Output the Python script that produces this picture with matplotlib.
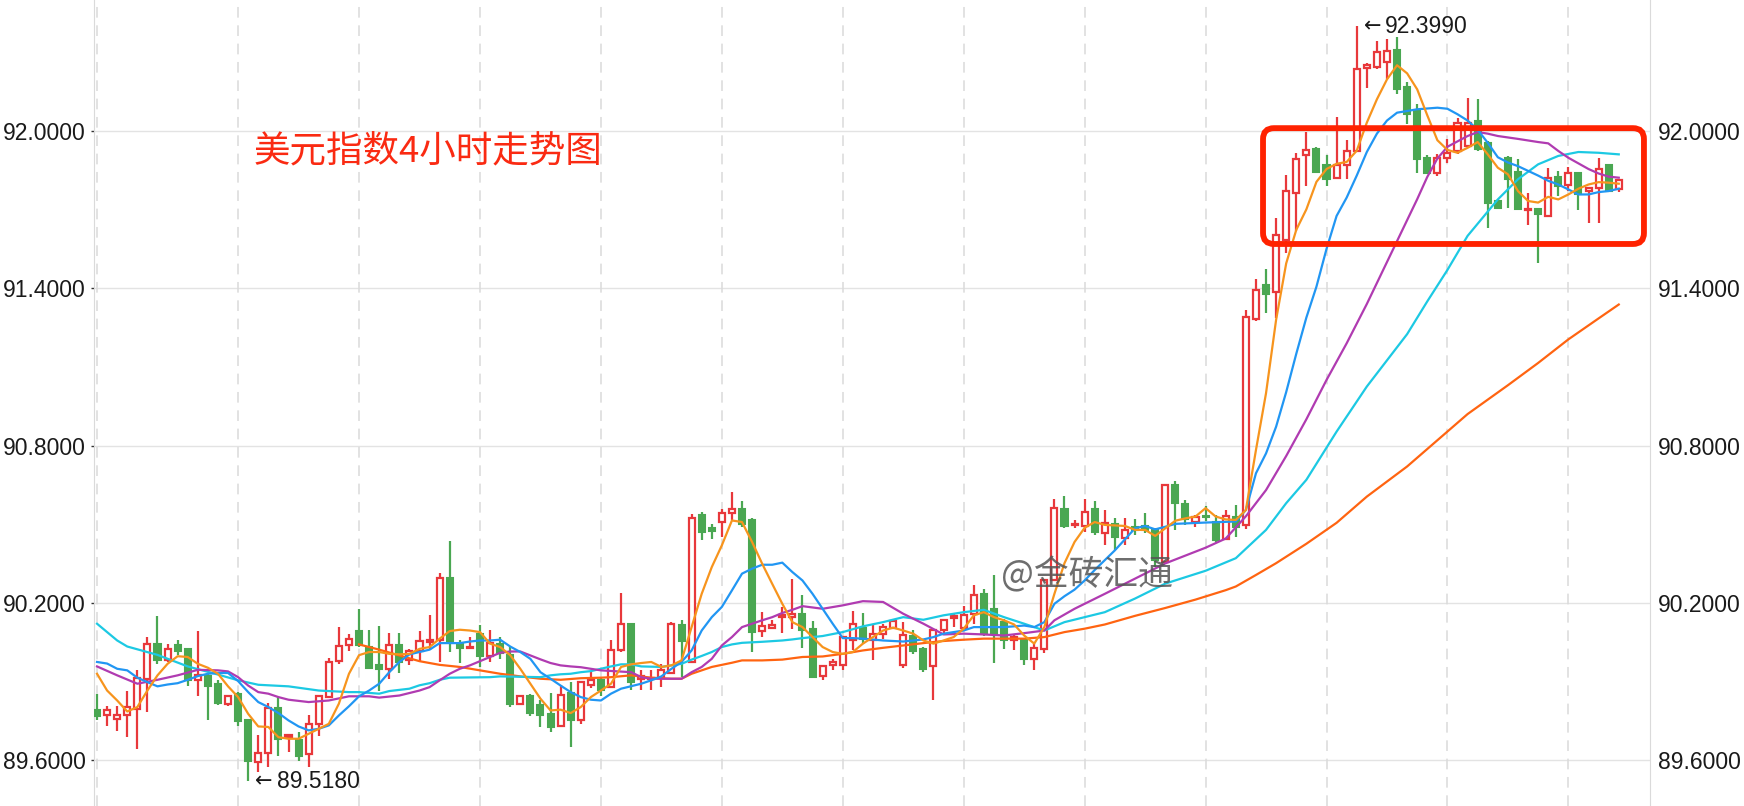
import matplotlib
matplotlib.use('Agg')
import matplotlib.pyplot as plt
from matplotlib.patches import Rectangle, FancyBboxPatch
from matplotlib.transforms import IdentityTransform

# 4小时K线 (152根)
opens = [89.792, 89.770, 89.755, 89.770, 89.795, 89.910, 90.043, 89.980, 90.037, 90.023,
         89.906, 89.919, 89.891, 89.815, 89.853, 89.753, 89.592, 89.626, 89.798, 89.687,
         89.675, 89.621, 89.736, 89.840, 89.977, 90.037, 90.092, 90.031, 89.961, 89.948,
         90.037, 89.980, 90.016, 90.050, 90.056, 90.295, 90.044, 90.027, 90.082, 89.995,
         90.044, 90.002, 89.815, 89.846, 89.808, 89.774, 89.728, 89.855, 89.754, 89.888,
         89.906, 89.878, 90.018, 90.120, 89.910, 89.909, 89.914, 89.933, 90.114, 89.974,
         90.533, 90.485, 90.508, 90.543, 90.559, 90.514, 90.094, 90.103, 90.145, 90.145,
         90.158, 90.101, 89.920, 89.961, 89.961, 90.059, 90.105, 90.056, 90.082, 90.105,
         89.961, 90.075, 90.024, 89.957, 90.097, 90.143, 90.103, 90.158, 90.232, 90.177,
         90.126, 90.059, 90.056, 89.986, 90.022, 90.285, 90.559, 90.495, 90.491, 90.559,
         90.465, 90.501, 90.446, 90.490, 90.493, 90.478, 90.357, 90.648, 90.576, 90.510,
         90.531, 90.510, 90.442, 90.529, 90.495, 91.282, 91.414, 91.385, 91.585, 91.765,
         91.907, 91.933, 91.869, 91.820, 91.871, 91.924, 92.242, 92.245, 92.263, 92.308,
         92.169, 92.076, 91.898, 91.838, 91.898, 91.924, 91.943, 92.038, 91.955, 91.733,
         91.898, 91.844, 91.697, 91.701, 91.676, 91.826, 91.793, 91.838, 91.771, 91.784,
         91.869, 91.777]
highs = [89.853, 89.807, 89.807, 89.865, 89.942, 90.071, 90.148, 90.041, 90.056, 90.028,
         90.094, 89.929, 89.904, 89.849, 89.858, 89.753, 89.697, 89.817, 89.840, 89.700,
         89.706, 89.773, 89.846, 89.991, 90.107, 90.082, 90.175, 90.097, 90.110, 90.086,
         90.086, 90.024, 90.094, 90.152, 90.315, 90.434, 90.059, 90.069, 90.116, 90.097,
         90.071, 90.031, 89.849, 89.850, 89.827, 89.855, 89.887, 89.897, 89.901, 89.935,
         89.916, 90.056, 90.237, 90.122, 89.944, 89.942, 89.967, 90.126, 90.133, 90.540,
         90.546, 90.501, 90.559, 90.621, 90.587, 90.523, 90.164, 90.133, 90.183, 90.292,
         90.228, 90.129, 89.961, 89.986, 90.075, 90.168, 90.162, 90.114, 90.120, 90.133,
         90.126, 90.097, 90.031, 90.101, 90.139, 90.158, 90.186, 90.269, 90.253, 90.304,
         90.139, 90.082, 90.063, 90.044, 90.288, 90.597, 90.606, 90.514, 90.597, 90.587,
         90.554, 90.522, 90.522, 90.519, 90.541, 90.484, 90.652, 90.666, 90.592, 90.535,
         90.569, 90.535, 90.552, 90.573, 91.316, 91.434, 91.475, 91.669, 91.832, 91.916,
         91.995, 91.939, 91.910, 92.052, 91.965, 92.399, 92.258, 92.343, 92.350, 92.360,
         92.187, 92.102, 91.907, 91.911, 91.968, 92.051, 92.127, 92.123, 91.962, 91.739,
         91.905, 91.892, 91.765, 91.707, 91.860, 91.847, 91.864, 91.841, 91.788, 91.898,
         91.869, 91.816]
lows = [89.751, 89.729, 89.710, 89.687, 89.643, 89.783, 89.967, 89.974, 89.999, 89.884,
        89.846, 89.751, 89.808, 89.806, 89.729, 89.518, 89.554, 89.575, 89.617, 89.630,
        89.598, 89.573, 89.690, 89.838, 89.967, 90.014, 90.031, 89.948, 89.865, 89.910,
        89.932, 89.961, 89.974, 90.018, 89.974, 90.012, 89.970, 90.025, 89.954, 89.974,
        89.986, 89.802, 89.815, 89.766, 89.726, 89.706, 89.726, 89.649, 89.738, 89.876,
        89.846, 89.876, 90.012, 89.868, 89.868, 89.868, 89.878, 89.927, 89.916, 89.970,
        90.438, 90.444, 90.451, 90.514, 90.489, 90.012, 90.069, 90.101, 90.084, 90.101,
        90.028, 89.914, 89.906, 89.944, 89.944, 90.018, 90.044, 89.980, 90.063, 90.101,
        89.952, 90.003, 89.935, 89.827, 90.082, 90.107, 90.101, 90.120, 90.075, 89.970,
        90.024, 90.018, 89.961, 89.944, 90.008, 90.285, 90.486, 90.486, 90.470, 90.457,
        90.421, 90.402, 90.421, 90.459, 90.465, 90.338, 90.351, 90.478, 90.497, 90.490,
        90.513, 90.433, 90.440, 90.450, 90.482, 91.275, 91.304, 91.288, 91.533, 91.617,
        91.791, 91.840, 91.791, 91.817, 91.817, 91.920, 92.165, 92.238, 92.197, 92.140,
        92.025, 91.841, 91.838, 91.828, 91.879, 91.911, 91.936, 91.924, 91.631, 91.701,
        91.707, 91.698, 91.640, 91.498, 91.673, 91.752, 91.771, 91.699, 91.648, 91.648,
        91.767, 91.767]
closes = [89.769, 89.789, 89.770, 89.802, 89.914, 90.043, 89.980, 90.024, 90.015, 89.904,
          89.923, 89.881, 89.817, 89.844, 89.748, 89.596, 89.626, 89.798, 89.681, 89.696,
          89.617, 89.736, 89.843, 89.973, 90.036, 90.060, 90.037, 89.951, 89.948, 90.040,
          89.974, 90.016, 90.054, 90.056, 90.294, 90.050, 90.028, 90.031, 89.996, 90.046,
          90.008, 89.815, 89.846, 89.779, 89.770, 89.726, 89.849, 89.751, 89.897, 89.904,
          89.866, 90.018, 90.117, 89.897, 89.919, 89.914, 89.942, 90.120, 90.054, 90.523,
          90.470, 90.472, 90.543, 90.559, 90.499, 90.088, 90.111, 90.116, 90.152, 90.158,
          90.097, 89.916, 89.957, 89.974, 90.069, 90.120, 90.063, 90.082, 90.107, 90.130,
          90.078, 90.016, 89.948, 90.097, 90.136, 90.148, 90.152, 90.228, 90.079, 90.082,
          90.056, 90.069, 89.986, 90.027, 90.285, 90.561, 90.491, 90.501, 90.546, 90.470,
          90.503, 90.452, 90.478, 90.478, 90.478, 90.363, 90.648, 90.580, 90.518, 90.529,
          90.526, 90.440, 90.531, 90.490, 91.292, 91.392, 91.378, 91.604, 91.772, 91.894,
          91.929, 91.843, 91.817, 91.871, 91.924, 92.238, 92.252, 92.301, 92.305, 92.159,
          92.064, 91.894, 91.841, 91.898, 91.915, 92.029, 92.032, 91.930, 91.726, 91.707,
          91.816, 91.701, 91.704, 91.682, 91.822, 91.790, 91.838, 91.758, 91.782, 91.856,
          91.771, 91.813]

# 均线 (按K线序号读取)
ma5_idx = list(range(0, 152))
ma5_val = [89.929, 89.865, 89.827, 89.785, 89.802, 89.865, 89.923, 89.967, 89.996, 89.993,
           89.967, 89.952, 89.929, 89.881, 89.840, 89.776, 89.728, 89.726, 89.687, 89.681,
           89.681, 89.700, 89.719, 89.738, 89.815, 89.929, 90.000, 90.012, 90.012, 90.005,
           90.003, 90.005, 90.024, 90.031, 90.063, 90.092, 90.097, 90.094, 90.088, 90.044,
           90.031, 90.000, 89.948, 89.891, 89.834, 89.789, 89.792, 89.779, 89.802, 89.840,
           89.865, 89.891, 89.955, 89.965, 89.970, 89.974, 89.955, 89.961, 89.980, 90.107,
           90.234, 90.336, 90.419, 90.514, 90.508, 90.432, 90.349, 90.272, 90.196, 90.126,
           90.107, 90.069, 90.031, 90.012, 90.005, 90.012, 90.044, 90.069, 90.094, 90.105,
           90.094, 90.082, 90.056, 90.044, 90.056, 90.069, 90.101, 90.152, 90.164, 90.145,
           90.133, 90.117, 90.075, 90.044, 90.107, 90.234, 90.351, 90.432, 90.486, 90.508,
           90.497, 90.495, 90.493, 90.478, 90.478, 90.455, 90.484, 90.513, 90.522, 90.529,
           90.561, 90.529, 90.518, 90.516, 90.554, 90.783, 91.000, 91.280, 91.495, 91.623,
           91.701, 91.806, 91.855, 91.875, 91.882, 91.925, 92.032, 92.121, 92.197, 92.251,
           92.220, 92.159, 92.060, 91.965, 91.928, 91.917, 91.936, 91.958, 91.911, 91.860,
           91.835, 91.771, 91.733, 91.727, 91.749, 91.739, 91.758, 91.780, 91.796, 91.805,
           91.803, 91.799]
ma10_idx = [0, 1, 2, 3, 4, 5, 6, 7, 8, 9, 10, 11, 12, 13, 14, 15, 16, 17, 18, 19, 20, 21, 22,
            23, 24, 25, 26, 27, 28, 29, 30, 31, 32, 33, 34, 35, 36, 37, 38, 39, 40, 41, 42,
            43, 44, 45, 46, 47, 48, 49, 50, 51, 52, 54, 55, 56, 57, 58, 59, 60, 61, 62, 63,
            64, 65, 66, 67, 68, 69, 70, 71, 72, 73, 74, 75, 76, 78, 80, 82, 83, 84, 86, 87,
            90, 92, 93, 94, 95, 96, 97, 98, 99, 101, 103, 104, 105, 106, 107, 110, 113, 114,
            115, 116, 117, 118, 119, 120, 121, 122, 123, 124, 125, 126, 127, 128, 129, 131,
            133, 134, 135, 136, 137, 138, 139, 140, 141, 142, 143, 144, 145, 146, 147, 148,
            149, 150, 151]
ma10_val = [89.974, 89.968, 89.948, 89.942, 89.914, 89.897, 89.881, 89.888, 89.893, 89.906,
            89.920, 89.929, 89.932, 89.932, 89.901, 89.859, 89.821, 89.802, 89.779, 89.751,
            89.728, 89.713, 89.719, 89.732, 89.770, 89.805, 89.843, 89.865, 89.891, 89.935,
            89.974, 90.003, 90.012, 90.021, 90.046, 90.046, 90.046, 90.052, 90.056, 90.056,
            90.059, 90.033, 90.012, 89.986, 89.935, 89.910, 89.884, 89.859, 89.840, 89.830,
            89.827, 89.853, 89.872, 89.891, 89.904, 89.919, 89.948, 89.974, 90.018, 90.094,
            90.145, 90.184, 90.247, 90.311, 90.330, 90.345, 90.345, 90.353, 90.317, 90.285,
            90.234, 90.177, 90.120, 90.065, 90.065, 90.063, 90.056, 90.052, 90.060, 90.069,
            90.082, 90.094, 90.107, 90.107, 90.113, 90.107, 90.126, 90.196, 90.225, 90.250,
            90.285, 90.325, 90.400, 90.484, 90.493, 90.480, 90.490, 90.501, 90.506, 90.510,
            90.554, 90.694, 90.770, 90.872, 91.004, 91.150, 91.288, 91.406, 91.550, 91.676,
            91.746, 91.830, 91.920, 91.990, 92.040, 92.070, 92.083, 92.089, 92.085, 92.064,
            92.040, 92.005, 91.955, 91.900, 91.880, 91.866, 91.848, 91.830, 91.810, 91.796,
            91.777, 91.758, 91.758, 91.767, 91.771, 91.780]
ma20_idx = [0, 2, 4, 6, 8, 10, 12, 13, 14, 15, 16, 17, 18, 19, 21, 23, 25, 27, 28, 30, 32,
            33, 34, 35, 36, 37, 38, 39, 40, 41, 42, 43, 44, 45, 46, 47, 48, 49, 50, 53, 54,
            55, 58, 59, 60, 61, 62, 63, 64, 65, 66, 67, 68, 69, 70, 72, 74, 76, 78, 80, 82,
            84, 86, 88, 90, 92, 94, 95, 97, 100, 103, 106, 110, 112, 114, 116, 118, 120,
            122, 124, 126, 128, 130, 131, 132, 133, 134, 136, 137, 138, 139, 141, 143, 144,
            145, 146, 148, 149, 150, 151]
ma20_val = [89.957, 89.923, 89.891, 89.906, 89.923, 89.944, 89.942, 89.938, 89.916, 89.884,
            89.859, 89.853, 89.840, 89.830, 89.821, 89.827, 89.843, 89.843, 89.838, 89.846,
            89.865, 89.878, 89.904, 89.929, 89.948, 89.961, 89.977, 89.993, 90.009, 90.014,
            90.014, 89.999, 89.984, 89.970, 89.961, 89.957, 89.954, 89.948, 89.942, 89.935,
            89.916, 89.910, 89.910, 89.935, 89.955, 89.986, 90.037, 90.069, 90.107, 90.120,
            90.133, 90.145, 90.161, 90.173, 90.187, 90.177, 90.190, 90.206, 90.203, 90.158,
            90.120, 90.079, 90.082, 90.079, 90.075, 90.084, 90.094, 90.133, 90.177, 90.234,
            90.292, 90.350, 90.410, 90.445, 90.530, 90.630, 90.760, 90.900, 91.050, 91.190,
            91.340, 91.500, 91.660, 91.740, 91.825, 91.895, 91.940, 91.981, 91.996, 91.990,
            91.981, 91.970, 91.958, 91.953, 91.924, 91.898, 91.855, 91.838, 91.826, 91.822]
ma30_idx = [0, 2, 3, 6, 9, 12, 14, 16, 19, 22, 25, 26, 28, 29, 31, 32, 33, 34, 35, 39, 40,
            44, 45, 46, 47, 48, 49, 50, 51, 52, 53, 54, 56, 57, 58, 59, 60, 61, 62, 63, 64,
            66, 68, 69, 70, 71, 72, 74, 76, 78, 80, 82, 84, 86, 88, 90, 92, 94, 96, 98, 100,
            103, 106, 110, 113, 116, 118, 120, 123, 126, 130, 132, 134, 136, 139, 141, 143,
            145, 147, 149, 151]
ma30_val = [90.120, 90.056, 90.033, 90.001, 89.957, 89.926, 89.904, 89.887, 89.881, 89.865,
            89.859, 89.859, 89.853, 89.863, 89.872, 89.885, 89.893, 89.906, 89.914, 89.916,
            89.919, 89.916, 89.923, 89.927, 89.929, 89.935, 89.939, 89.948, 89.957, 89.965,
            89.965, 89.957, 89.955, 89.961, 89.967, 89.983, 89.997, 90.012, 90.031, 90.041,
            90.047, 90.051, 90.056, 90.060, 90.065, 90.069, 90.073, 90.088, 90.110, 90.126,
            90.145, 90.135, 90.152, 90.164, 90.173, 90.145, 90.120, 90.094, 90.126, 90.145,
            90.164, 90.216, 90.273, 90.322, 90.370, 90.478, 90.580, 90.669, 90.853, 91.025,
            91.225, 91.350, 91.470, 91.600, 91.739, 91.816, 91.873, 91.905, 91.920, 91.917,
            91.911]
ma60_idx = [26, 28, 30, 32, 34, 36, 38, 40, 42, 44, 46, 48, 50, 51, 53, 55, 57, 58, 59, 61,
            63, 64, 66, 68, 70, 72, 74, 76, 78, 80, 82, 84, 86, 88, 90, 92, 94, 96, 98, 100,
            103, 106, 109, 112, 113, 115, 117, 120, 123, 126, 130, 133, 136, 140, 143, 146,
            149, 151]
ma60_val = [90.041, 90.021, 89.999, 89.977, 89.963, 89.955, 89.942, 89.929, 89.919, 89.910,
            89.906, 89.912, 89.914, 89.916, 89.923, 89.914, 89.910, 89.910, 89.929, 89.955,
            89.971, 89.980, 89.980, 89.983, 89.993, 89.995, 90.005, 90.018, 90.028, 90.037,
            90.046, 90.054, 90.059, 90.063, 90.063, 90.063, 90.069, 90.088, 90.101, 90.117,
            90.150, 90.180, 90.212, 90.248, 90.262, 90.306, 90.351, 90.425, 90.505, 90.605,
            90.720, 90.820, 90.920, 91.030, 91.115, 91.205, 91.285, 91.338]

y_ticks = [89.6, 90.2, 90.8, 91.4, 92.0]
day_marks = [0, 14, 26, 38, 50, 62, 74, 86, 98, 110, 122, 134, 146]
hi_idx, lo_idx = 125, 15
# 红框 (K线序号 / 价格)
box_left, box_right, box_bottom, box_top = 115.7, 153.5, 91.569, 92.011

red = '#E8383B'
green = '#4AA752'
num_font = ['Liberation Sans', 'DejaVu Sans']

fig = plt.figure(figsize=(17.44, 8.06), dpi=100)
ax = fig.add_axes([93.5 / 1744, 0, (1650 - 93.5) / 1744, 1])
ax.set_xlim(-0.35, 154.1)
ax.set_ylim(89.4244, 92.5)

# 网格
for v in y_ticks:
    ax.axhline(v, color='#E3E3E3', lw=1, zorder=0)
for d in day_marks:
    ax.axvline(d, color='#DADADA', lw=1.1, linestyle=(0, (7, 5)), zorder=0)

# K线
w = 0.6
for i in range(len(opens)):
    o, h, l, c = opens[i], highs[i], lows[i], closes[i]
    if c >= o:
        ax.plot([i, i], [max(o, c), h], color=red, lw=1.6, zorder=2, solid_capstyle='butt')
        ax.plot([i, i], [l, min(o, c)], color=red, lw=1.6, zorder=2, solid_capstyle='butt')
        ax.add_patch(Rectangle((i - w / 2, o), w, max(c - o, 0.0005), facecolor='white',
                               edgecolor=red, lw=1.6, zorder=3))
    else:
        ax.plot([i, i], [l, h], color=green, lw=1.6, zorder=2, solid_capstyle='butt')
        ax.add_patch(Rectangle((i - w / 2, c), w, o - c, facecolor=green,
                               edgecolor=green, lw=1.5, zorder=3))

# 均线
ax.plot(ma60_idx, ma60_val, color='#FF6411', lw=1.6, zorder=4)
ax.plot(ma30_idx, ma30_val, color='#1CC9E3', lw=1.6, zorder=4)
ax.plot(ma20_idx, ma20_val, color='#B03BB1', lw=1.6, zorder=4)
ax.plot(ma10_idx, ma10_val, color='#2196F3', lw=1.6, zorder=4)
ax.plot(ma5_idx, ma5_val, color='#F7941D', lw=1.6, zorder=5)

# 坐标轴
ax.set_yticks(y_ticks)
ax.set_yticklabels(['%.4f' % v for v in y_ticks])
ax.set_xticks([])
ax.tick_params(axis='y', left=True, right=False, labelleft=True, labelright=True,
               length=2.5, width=1, color='#333333', pad=3, labelsize=16.5)
for lab in ax.get_yticklabels():
    lab.set_family(num_font)
    lab.set_color('#1A1A1A')
for s in ['top', 'bottom']:
    ax.spines[s].set_visible(False)
for s in ['left', 'right']:
    ax.spines[s].set_color('#DADADA')

# 最高/最低标注
for idx, val in [(hi_idx, highs[hi_idx]), (lo_idx, lows[lo_idx])]:
    ax.annotate('←', (idx, val), xytext=(5, 0), textcoords='offset points',
                va='center', ha='left', fontsize=15, family='DejaVu Sans',
                color='#1A1A1A', zorder=6)
    ax.annotate('%.4f' % val, (idx, val), xytext=(20.5, 0), textcoords='offset points',
                va='center', ha='left', fontsize=16.5, family=num_font,
                color='#1A1A1A', zorder=6)

ax.text(0.1031, 0.8114, '美元指数4小时走势图', transform=ax.transAxes, fontsize=26.3,
        color='#FA2A12', va='center', ha='left', family=['Noto Sans CJK SC', 'DejaVu Sans'])
ax.text(0.583, 0.2866, '@金砖汇通', transform=ax.transAxes, fontsize=25,
        color='#555555', alpha=0.85, va='center', ha='left', zorder=7,
        family=['Noto Sans CJK SC', 'DejaVu Sans'])

# 圆角红框
x0, y0 = ax.transData.transform((box_left, box_bottom))
x1, y1 = ax.transData.transform((box_right, box_top))
fig.patches.append(FancyBboxPatch((x0, y0), x1 - x0, y1 - y0,
                                  boxstyle='round,pad=0,rounding_size=11',
                                  transform=IdentityTransform(), fill=False,
                                  edgecolor='#FF2200', lw=4.2, zorder=8))

fig.savefig('out.png', dpi=100)
